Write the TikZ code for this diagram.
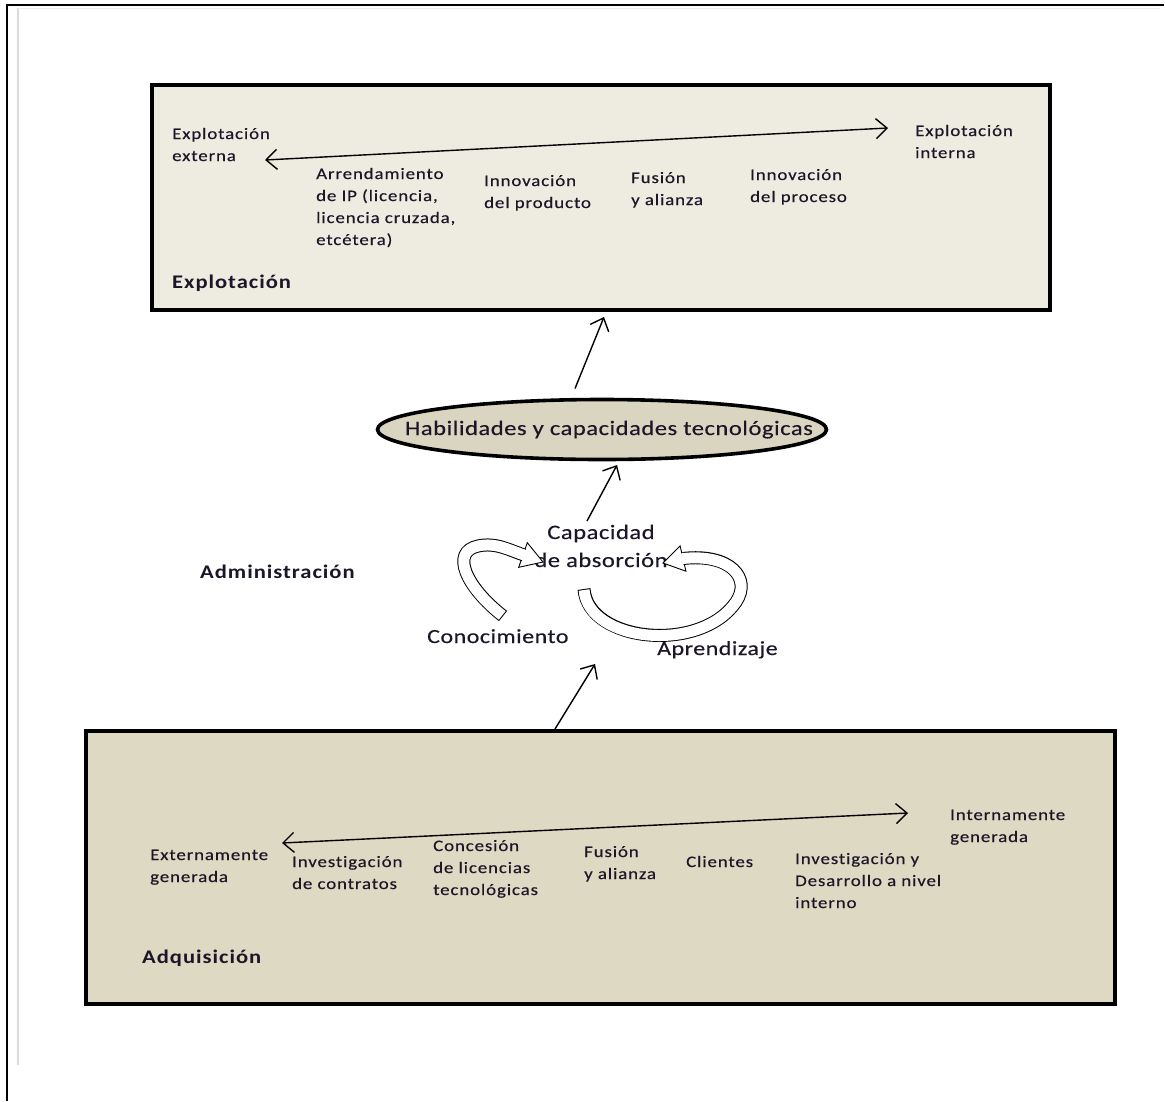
\documentclass[tikz,border=0pt]{standalone}
\usepackage{fontspec}
\usetikzlibrary{arrows.meta,shapes.geometric}
\newfontfamily\txtfont{Carlito}[FakeStretch=1.18,LetterSpace=5.5,FakeBold=0.35,Ligatures=NoCommon]
\newfontfamily\boldtxtfont{Carlito Bold}[FakeStretch=1.17,LetterSpace=5,Ligatures=NoCommon]
\newfontfamily\bigtxtfont{Carlito}[FakeStretch=1.2,LetterSpace=2.5,FakeBold=0.3,Ligatures=NoCommon]
\definecolor{topfill}{HTML}{EEECE1}
\definecolor{botfill}{HTML}{DDD9C3}
\definecolor{ellfill}{HTML}{DAD5C0}
\definecolor{txtc}{RGB}{28,22,40}
\definecolor{framegrey}{HTML}{DCDCDC}
\newcommand{\mlines}[1]{\begin{tabular}[t]{@{}l@{}}#1\end{tabular}}
\newcommand{\clines}[1]{\begin{tabular}[t]{@{}c@{}}#1\end{tabular}}
\tikzset{
  lbl/.style={anchor=base west, inner sep=0pt, text=txtc, font=\txtfont\fontsize{16}{22}\selectfont},
  boldlbl/.style={anchor=base west, inner sep=0pt, text=txtc, font=\boldtxtfont\fontsize{19.3}{22}\selectfont},
  biglbl/.style={anchor=base, inner sep=0pt, text=txtc, font=\bigtxtfont\fontsize{20.5}{28}\selectfont},
  panel/.style={draw=black, line width=4pt, rectangle, inner sep=0pt},
  upar/.style={-{Straight Barb[length=11pt,width=20pt]}, line width=1.4pt},
  axis/.style={{Straight Barb[length=11pt,width=20pt]}-{Straight Barb[length=11pt,width=20pt]}, line width=1.4pt},
  blockhead/.style={fill=white, draw=black, line width=0.9pt, line join=miter},
  shaftout/.style={draw=black, line width=13pt, line cap=butt},
  shaftin/.style={draw=white, line width=11pt, line cap=butt},
}
\begin{document}
\begin{tikzpicture}[x=1pt,y=-1pt]
\useasboundingbox (0,0) rectangle (1165,1101);
\fill[white] (0,0) rectangle (1165,1101);
% outer frame
\coordinate (ftl) at (7,5);
\coordinate (ftr) at (1164,5);
\coordinate (fbl) at (7,1101);
\draw[line width=1.4pt] (ftr) -- (ftl);
\draw[line width=2.6pt] (7,4.3) -- (fbl);
\draw[framegrey, line width=2pt] (17.5,8) -- (17.5,1065);
\draw[framegrey!50, line width=1pt] (18,8) -- (1160,8);

% panels
\node[panel, fill=topfill, minimum width=898pt, minimum height=225.5pt] (expl) at (601,197.25) {};
\node[panel, fill=botfill, minimum width=1029.5pt, minimum height=273pt] (adq) at (600.25,867.5) {};
\node[ellipse, draw=black, line width=3.6pt, fill=ellfill, minimum width=449pt, minimum height=60pt, inner sep=0pt] (hab) at (602,429.5) {};

% top panel texts
\node[lbl] (extl) at (172,139) {\mlines{Explotación\\externa}};
\node[lbl] (arr) at (316,179) {\mlines{Arrendamiento\\de IP (licencia,\\licencia cruzada,\\etcétera)}};
\node[lbl] (innp) at (484,186) {\mlines{Innovación\\del producto}};
\node[lbl] (fus1) at (631,183) {\mlines{Fusión\\y alianza}};
\node[lbl] (innpr) at (750,180) {\mlines{Innovación\\del proceso}};
\node[lbl] (intl) at (915,136) {\mlines{Explotación\\interna}};
\node[boldlbl] (explt) at (172,288) {Explotación};
\coordinate (ta1) at (265,160);
\coordinate (ta2) at (888,128);
\draw[axis] (ta1) -- (ta2);

% middle
\node[biglbl] (habt) at (609,435) {Habilidades y capacidades tecnológicas};
\node[boldlbl] (adm) at (200,578) {Administración};
\node[biglbl] (cap) at (601,539) {\clines{Capacidad\\de absorción}};
\node[lbl, font=\bigtxtfont\fontsize{20}{24}\selectfont] (con) at (427,643) {Conocimiento};
\node[lbl, font=\bigtxtfont\fontsize{20}{24}\selectfont] (apr) at (657,655) {Aprendizaje};

% block arrows
% left (Conocimiento)
\draw[blockhead] (543,562) -- (527.3,542.7) -- (518.7,567.3) -- cycle;
\draw[shaftout] (503,616) .. controls (466,587) and (450,552) .. (478,546) .. controls (496,542) and (510,550.5) .. (524,555);
\draw[shaftin, shorten <=1pt, shorten >=-1.2pt] (503,616) .. controls (466,587) and (450,552) .. (478,546) .. controls (496,542) and (510,550.5) .. (524,555);
% right (Aprendizaje)
\draw[blockhead] (663,563) -- (685.9,571.2) -- (680.1,545.8) -- cycle;
\draw[shaftout] (584,589) .. controls (588,642) and (700,654) .. (736,602) .. controls (752,578) and (730,553) .. (683,558.5);
\draw[shaftin, shorten <=1pt, shorten >=-1.2pt] (584,589) .. controls (588,642) and (700,654) .. (736,602) .. controls (752,578) and (730,553) .. (683,558.5);

% upward arrows
\coordinate (u1s) at (555,729);
\coordinate (u1e) at (595,664);
\coordinate (u2s) at (587,521);
\coordinate (u2e) at (617,465);
\coordinate (u3s) at (575,388.5);
\coordinate (u3e) at (604,317);
\draw[upar] (u1s) -- (u1e);
\draw[upar] (u2s) -- (u2e);
\draw[upar] (u3s) -- (u3e);

% bottom panel texts
\node[lbl] (extg) at (150,860) {\mlines{Externamente\\generada}};
\node[lbl] (invc) at (292,867) {\mlines{Investigación\\de contratos}};
\node[lbl] (conc) at (433,851) {\mlines{Concesión\\de licencias\\tecnológicas}};
\node[lbl] (fus2) at (584,857) {\mlines{Fusión\\y alianza}};
\node[lbl] (cli) at (686,867) {Clientes};
\node[lbl] (idi) at (795,864) {\mlines{Investigación y\\Desarrollo a nivel\\interno}};
\node[lbl] (intg) at (950,820) {\mlines{Internamente\\generada}};
\node[boldlbl] (adqt) at (142,963) {Adquisición};
\coordinate (ba1) at (282,843);
\coordinate (ba2) at (908,813);
\draw[axis] (ba1) -- (ba2);
\end{tikzpicture}
\end{document}
